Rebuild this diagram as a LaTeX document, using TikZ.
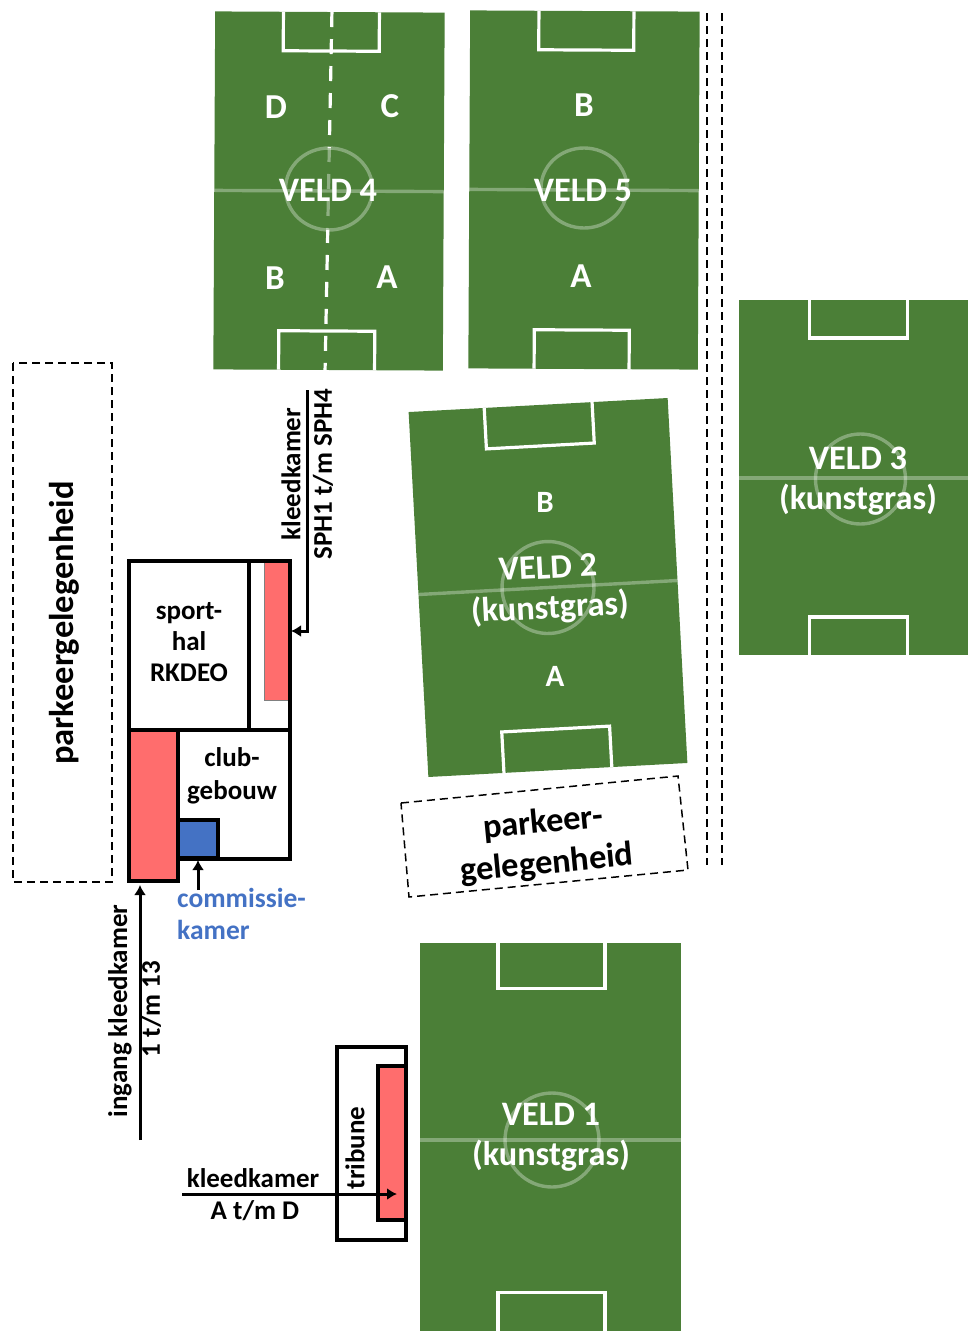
\documentclass[tikz,border=0pt]{standalone}
\usepackage{fontspec}
\setmainfont{Carlito}
\usetikzlibrary{arrows.meta}
\definecolor{grass}{HTML}{4B7F37}
\definecolor{roomred}{HTML}{FF6D6D}
\definecolor{roomblue}{HTML}{4472C4}
\tikzset{
  pitchfill/.style={fill=grass,draw=none},
  goalbox/.style={draw=white,line width=3.2pt,line join=miter},
  halfline/.style={draw=white,draw opacity=.32,line width=3.4pt},
  split/.style={draw=white,line width=3.2pt,dash pattern=on 15pt off 12pt},
  parking/.style={draw=black,line width=1.5pt,dash pattern=on 8pt off 5pt},
  roadline/.style={draw=black,line width=1.6pt,dash pattern=on 8pt off 5pt},
  wall/.style={draw=black,line width=3.6pt,fill=white},
  redroom/.style={fill=roomred,draw=black,line width=3.6pt},
  arrowline/.style={draw=black,line width=3pt,-{Latex[length=10pt,width=12pt]}},
  pitchtext/.style={text=white,font=\bfseries\fontsize{34.3}{40}\selectfont,align=center,inner sep=0pt},
  lettertext/.style={text=white,font=\bfseries\fontsize{35}{40}\selectfont,inner sep=0pt},
  label/.style={text=black,font=\bfseries\fontsize{27}{32}\selectfont,align=center,inner sep=0pt},
  bluelabel/.style={text=roomblue,font=\bfseries\fontsize{27.5}{32}\selectfont,align=left,inner sep=0pt},
  biglabel/.style={text=black,font=\bfseries\fontsize{34.5}{41}\selectfont,align=center,inner sep=0pt},
}
% centre x, centre y, angle, width, height, box width, box depth, circle radius
\newcommand{\pitch}[8]{%
  \begin{scope}[shift={(#1,#2)},rotate=#3]
    \fill[pitchfill] (-#4/2,-#5/2) rectangle (#4/2,#5/2);
    \draw[goalbox] (\boff+\bsk-#6/2,-#5/2) -- (\boff+\bsk-#6/2,-#5/2+#7+\dsk) -- (\boff+\bsk+#6/2,-#5/2+#7+\dsk) -- (\boff+\bsk+#6/2,-#5/2);
    \draw[goalbox] (\boff-\bsk-#6/2,#5/2) -- (\boff-\bsk-#6/2,#5/2-#7+\dsk) -- (\boff-\bsk+#6/2,#5/2-#7+\dsk) -- (\boff-\bsk+#6/2,#5/2);
    \extra
    \draw[halfline] (-#4/2,\loff) -- (#4/2,\loff);
    \draw[halfline] (\coff,\cyoff) ellipse [x radius={#8+\cw},y radius=#8];
  \end{scope}}
\def\boff{0}\def\coff{0}\def\loff{0}\def\cyoff{0}\def\cw{0}\def\bsk{0}\def\dsk{0}\def\extra{}
\begin{document}
\begin{tikzpicture}[x=1pt,y=-1pt]
\useasboundingbox (0,0) rectangle (968,1331);
% fields
\def\bsk{1.5}\def\cyoff{-2}\def\cw{2.5}
\def\extra{\draw[split] (2,-179) -- (-3,179);\fill[grass,opacity=.62] (0,-2) ellipse [x radius=43.5,y radius=41];}
\pitch{329}{191}{-0.3}{229.5}{358}{96}{39}{41}
\def\extra{}
\def\cw{3}
\pitch{584}{190}{-0.3}{229.5}{358}{95}{39}{40}
\def\bsk{0}\def\cw{0}\def\cyoff{0}
\pitch{548}{587.5}{3.1}{259.4}{365.5}{108}{41}{46}
\def\boff{5}\def\coff{7}\def\loff{0.5}\def\cyoff{1.5}
\pitch{853.5}{477.5}{0}{229}{355}{98}{38}{45}
\def\boff{1}\def\coff{1.5}\def\loff{3}\def\cyoff{3}\def\dsk{3.5}
\pitch{550.5}{1137}{0}{261}{388}{107}{42}{47}
\def\boff{0}\def\coff{0}\def\loff{0}\def\cyoff{0}\def\dsk{0}
% field labels
\node[lettertext] (d4) at (276,107) {D};
\node[lettertext] (c4) at (390,106) {C};
\node[lettertext] (b4) at (275,278) {B};
\node[lettertext] (a4) at (387,277) {A};
\node[pitchtext] (v4) at (328,190) {VELD 4};
\node[lettertext] (b5) at (584,105) {B};
\node[lettertext] (a5) at (581,276) {A};
\node[pitchtext] (v5) at (583,190) {VELD 5};
\node[lettertext,font=\bfseries\fontsize{31}{40}\selectfont] (b2) at (545,502) {B};
\node[lettertext,font=\bfseries\fontsize{31}{40}\selectfont] (a2) at (555,676) {A};
\node[pitchtext,rotate=3] (v2) at (549,590) {VELD 2\\(kunstgras)};
\node[pitchtext] (v3) at (858,481) {VELD 3\\(kunstgras)};
\node[pitchtext] (v1) at (551,1137) {VELD 1\\(kunstgras)};
% road and parking
\coordinate (r1a) at (707,13); \coordinate (r1b) at (707,865);
\coordinate (r2a) at (722,13); \coordinate (r2b) at (722,865);
\draw[roadline] (r1a) -- (r1b);
\draw[roadline] (r2a) -- (r2b);
\draw[parking] (13,363) rectangle (112,882);
\node[biglabel,rotate=90] (pk1) at (64,623) {parkeergelegenheid};
\draw[parking] (401,803) -- (678,776) -- (688,870) -- (409,897) -- cycle;
\node[biglabel,rotate=5.5] (pk2) at (545,844) {parkeer-\\gelegenheid};
% buildings
\draw[wall] (249,561) rectangle (290,730);
\fill[roomred,draw=gray,line width=1pt] (264,562) rectangle (289,700);
\draw[wall,fill=none] (249,561) rectangle (290,730);
\draw[wall] (129,561) rectangle (249,730);
\node[label,font=\bfseries\fontsize{27}{31}\selectfont] (hal) at (189,642) {sport-\\hal\\RKDEO};
\draw[wall] (178,730) rectangle (290,859);
\node[label,font=\bfseries\fontsize{27}{33}\selectfont] (club) at (232,776) {club-\\gebouw};
\draw[redroom] (129,730) rectangle (178,881);
\draw[wall,fill=roomblue] (178,820) rectangle (218,858);
\coordinate (blue) at (198,860);
\coordinate (redl) at (140,885);
\coordinate (redr) at (291,631);
\node[bluelabel,anchor=north west] (com) at (177,888) {commissie-\\kamer};
\coordinate (c0) at (198,890);
\draw[arrowline] (c0) -- (blue);
\coordinate (i0) at (140,1140);
\draw[arrowline] (i0) -- (redl);
\coordinate (k0) at (307,390);
\coordinate (k1) at (307,631);
\draw[arrowline] (k0) -- (k1) -- (redr);
\node[label,rotate=90] (kl1) at (291,474) {kleedkamer};
\node[label,rotate=90] (kl2) at (323,474) {SPH1 t/m SPH4};
\node[label,rotate=90] (in1) at (120,1011) {ingang kleedkamer};
\node[label,rotate=90] (in2) at (151,1009) {1 t/m 13};
% tribune
\draw[wall] (337,1047) rectangle (406,1240);
\draw[redroom] (378,1066) rectangle (406,1220);
\node[label,rotate=90] (trib) at (355,1148) {tribune};
\coordinate (a0) at (182,1194);
\coordinate (a1) at (397,1194);
\draw[arrowline] (a0) -- (a1);
\node[label] (kl3) at (253,1178) {kleedkamer};
\node[label] (kl4) at (255,1211) {A t/m D};
\end{tikzpicture}
\end{document}
